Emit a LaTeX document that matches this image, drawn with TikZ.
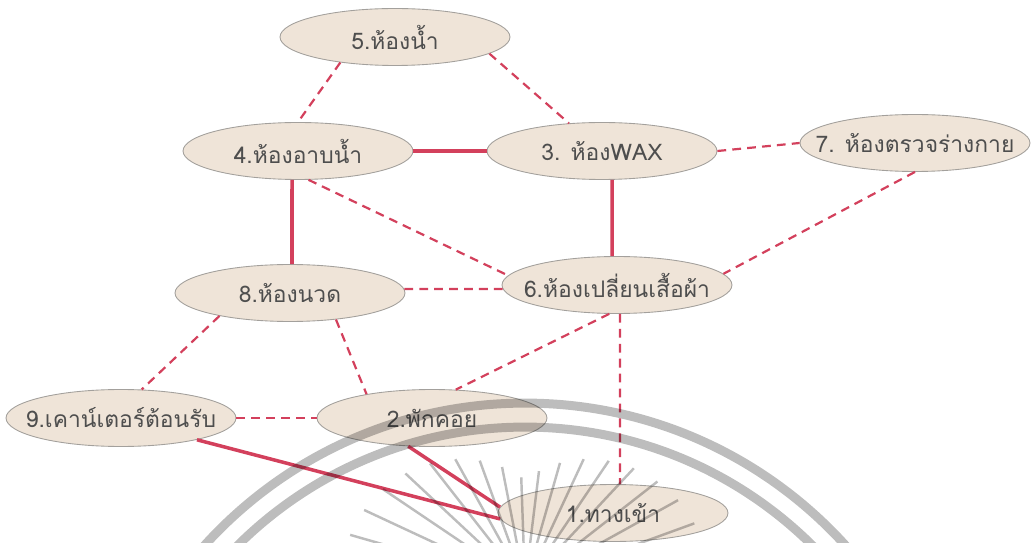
\documentclass[tikz,border=0pt]{standalone}
\usepackage{fontspec}
\newfontfamily\thaifont[Script=Thai]{Loma}
\usepackage{xcolor}
\usepackage{tikz}
\usetikzlibrary{shapes.geometric}
\definecolor{roomfill}{HTML}{EFE4D8}
\definecolor{roomline}{HTML}{A3A09C}
\definecolor{linkred}{HTML}{D3405C}
\definecolor{txtgray}{HTML}{4E4E4E}

\begin{document}
\begin{tikzpicture}[x=0.02cm, y=-0.02cm,
  room/.style={ellipse, draw=roomline, line width=0.5pt, fill=roomfill,
               minimum width=4.6cm, minimum height=1.14cm, inner xsep=-1.5cm,
               inner ysep=0pt, text=txtgray, font=\thaifont\fontsize{13}{15}\selectfont},
  adj/.style={draw=linkred, line width=2pt},
  rel/.style={draw=linkred, line width=1.25pt, dash pattern=on 5pt off 3.5pt},
  wmark/.style={draw=black, opacity=0.26}
]
\useasboundingbox (0,0) rectangle (1033,543);
\node[room] (wc) at (395,37) {5.ห้องน้ำ};
\node[room] (bath) at (298,151) {4.ห้องอาบน้ำ};
\node[room] (wax) at (602,151) {3. ห้องWAX};
\node[room] (exam) at (915,143) {7. ห้องตรวจร่างกาย};
\node[room] (mass) at (290,293) {8.ห้องนวด};
\node[room] (chg) at (617,285) {6.ห้องเปลี่ยนเสื้อผ้า};
\node[room] (desk) at (121,418) {9.เคาน์เตอร์ต้อนรับ};
\node[room] (wait) at (432,418) {2.พักคอย};
\node[room] (ent) at (613,513) {1.ทางเข้า};
\draw[rel] (wc.205) -- (bath.north);
\draw[rel] (wc.350) -- (wax.140);
\draw[adj] (bath.east) -- (wax.west);
\draw[rel] (wax.east) -- (exam.west);
\draw[adj] ([xshift=-0.12cm]bath.south) -- ([xshift=0.04cm]mass.north);
\draw[adj] ([xshift=0.2cm]wax.south) -- ([xshift=-0.1cm]chg.north);
\draw[rel] (bath.290) -- (chg.175);
\draw[rel] (exam.south) -- (chg.6);
\draw[rel] (mass.2) -- (chg.182);
\draw[rel] (mass.198) -- (desk.54);
\draw[rel] (mass.330) -- (wait.160);
\draw[rel] (chg.255) -- (wait.50);
\draw[rel] ([xshift=0.06cm]chg.south) -- ([xshift=0.14cm]ent.north);
\draw[rel] (desk.east) -- (wait.west);
\draw[adj] (desk.344) -- (ent.183);
\draw[adj] (wait.230) -- (ent.177);
\begin{scope}
  \clip (0,0) rectangle (1033,543);
  \draw[wmark, line width=0.18cm] (525,835) circle (8.64cm);
  \draw[wmark, line width=0.18cm] (525,835) circle (8.16cm);
  \foreach \a in {20,29,...,164} {
    \pgfmathsetmacro{\rr}{(105+80*abs(cos(\a)))*0.02}
    \draw[wmark, line width=1.4pt] ([shift={(\a:0.8cm)}]525,585) -- ([shift={(\a:\rr cm)}]525,585);
  }
\end{scope}
\end{tikzpicture}
\end{document}
